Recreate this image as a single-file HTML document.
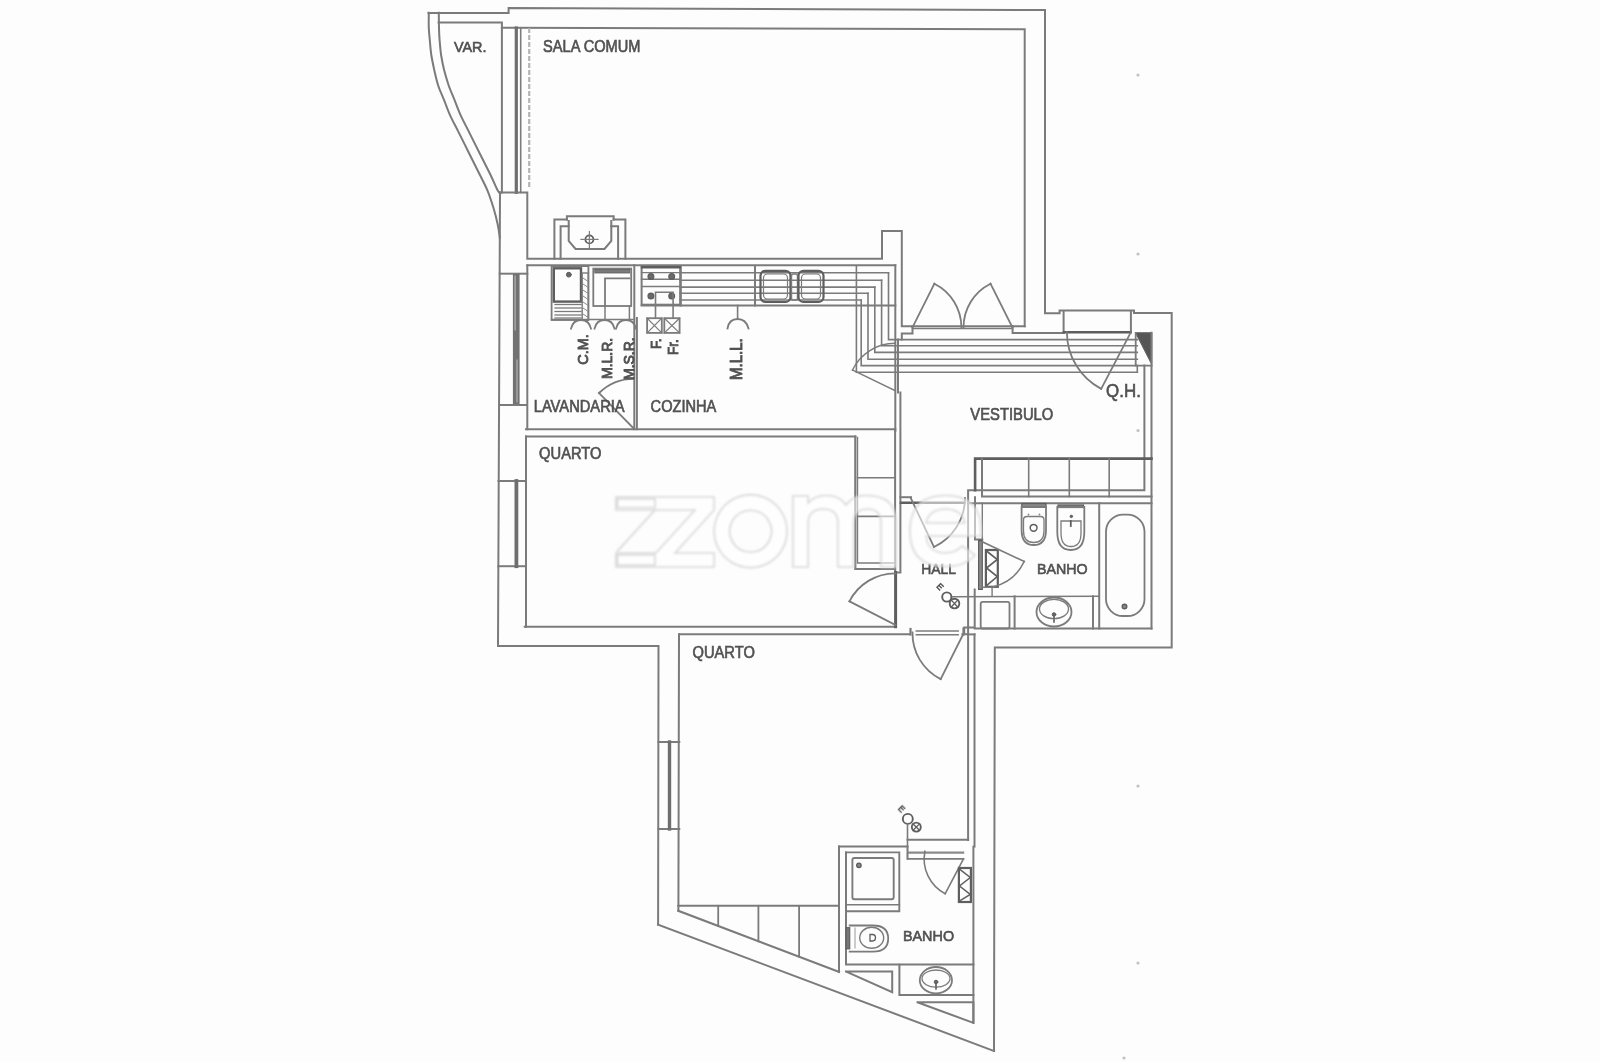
<!DOCTYPE html>
<html><head><meta charset="utf-8"><style>
html,body{margin:0;padding:0;background:#fff;}
svg{display:block;}
text{font-family:"Liberation Sans",sans-serif;}
</style></head><body>
<svg width="1600" height="1062" viewBox="0 0 1600 1062" stroke-linecap="square" stroke-linejoin="miter">
<rect x="0" y="0" width="1600" height="1062" fill="#fdfdfd"/>
<g>
<path d="M428.5,12.9 L508.6,12.9 L508.6,8.1 L1045.0,10.0 L1045.0,313.2 L1059.6,313.2 L1059.6,310.6 L1134.0,310.6 L1134.0,313.0 L1171.7,313.0 L1171.7,647.5 L994.8,647.5 L994.0,1051.0" stroke="#7b7b7b" stroke-width="2.0" fill="none" />
<path d="M658.1,924.6 L994.0,1051.0" stroke="#7b7b7b" stroke-width="2.0" fill="none" />
<path d="M500.0,192.4 L498.0,646.0 L658.5,646.0 L658.1,924.6" stroke="#7b7b7b" stroke-width="2.0" fill="none" />
<path d="M428.8,12.7 C428.8,15.2 428.6,23.4 428.8,28.0 C429.0,32.5 429.4,35.5 429.8,40.0 C430.2,44.5 430.6,50.0 431.3,55.0 C432.1,60.0 433.2,65.1 434.3,70.1 C435.4,75.1 436.5,80.2 438.1,85.2 C439.7,90.2 442.1,95.2 444.1,100.2 C446.1,105.2 447.8,110.3 450.1,115.3 C452.4,120.3 455.2,125.4 457.7,130.4 C460.2,135.4 462.7,140.4 465.2,145.4 C467.7,150.4 470.2,155.5 472.7,160.5 C475.2,165.5 477.7,170.5 480.2,175.5 C482.7,180.5 485.3,185.2 487.5,190.6 C489.7,196.0 491.8,202.4 493.5,208.0 C495.2,213.6 496.6,219.1 497.6,224.0 C498.7,228.9 499.4,235.2 499.8,237.5" stroke="#7b7b7b" stroke-width="2.0" fill="none" />
<path d="M438.8,12.7 C438.8,15.2 438.9,23.4 439.0,28.0 C439.1,32.5 439.2,35.5 439.6,40.0 C440.0,44.5 440.4,50.0 441.1,55.0 C441.9,60.0 442.9,65.1 444.1,70.1 C445.4,75.1 446.9,80.2 448.6,85.2 C450.4,90.2 452.6,95.2 454.6,100.2 C456.6,105.2 458.4,110.3 460.7,115.3 C463.0,120.3 465.7,125.4 468.2,130.4 C470.7,135.4 473.2,140.4 475.7,145.4 C478.2,150.4 480.8,155.5 483.3,160.5 C485.8,165.5 488.5,170.7 490.8,175.5 C493.1,180.3 495.7,186.5 497.2,189.5 C498.7,192.5 499.5,192.8 500.0,193.4" stroke="#7b7b7b" stroke-width="2.0" fill="none" />
<path d="M438.6,22.6 L501.9,22.6 L501.9,192.4" stroke="#7b7b7b" stroke-width="2.0" fill="none" />
<path d="M501.9,27.7 L1024.7,29.3 L1024.7,326.3" stroke="#7b7b7b" stroke-width="2.0" fill="none" />
<path d="M516.3,28.0 L516.3,192.4" stroke="#6e6e6e" stroke-width="3.2" fill="none" />
<path d="M520.7,28.0 L520.7,192.4" stroke="#7b7b7b" stroke-width="1.6" fill="none" />
<path d="M529.2,29.0 L529.2,188.0" stroke="#b4b4b4" stroke-width="2.2" fill="none" stroke-dasharray="3 4"/>
<path d="M499.8,192.4 L527.3,192.4 L527.3,258.8 L882.0,258.8 L882.0,230.9 L901.8,230.9 L901.8,326.3 L1024.7,326.3" stroke="#7b7b7b" stroke-width="2.0" fill="none" />
<path d="M554.4,258.8 L554.4,219.4 L566.9,219.4" stroke="#7b7b7b" stroke-width="2.0" fill="none" />
<path d="M613.5,219.4 L625.4,219.4 L625.4,258.8" stroke="#7b7b7b" stroke-width="2.0" fill="none" />
<path d="M560.6,258.8 L560.6,226.3 L568.7,226.3" stroke="#7b7b7b" stroke-width="2.0" fill="none" />
<path d="M611.3,226.3 L618.1,226.3 L618.1,258.8" stroke="#7b7b7b" stroke-width="2.0" fill="none" />
<path d="M566.9,219.4 L566.9,216.3 L613.7,216.3 L613.7,219.4" stroke="#7b7b7b" stroke-width="2.0" fill="none" />
<path d="M568.7,221.0 L568.7,241.0 L575.5,249.0 L604.5,249.0 L611.3,241.0 L611.3,221.0" stroke="#7b7b7b" stroke-width="2.0" fill="none" />
<circle cx="589.4" cy="239.4" r="4.0" stroke="#5e5e5e" stroke-width="1.8" fill="none"/>
<path d="M581.0,239.4 L598.0,239.4" stroke="#7b7b7b" stroke-width="1.2" fill="none" />
<path d="M589.4,231.5 L589.4,247.5" stroke="#7b7b7b" stroke-width="1.2" fill="none" />
<path d="M527.3,265.3 L895.3,265.3" stroke="#7b7b7b" stroke-width="2.0" fill="none" />
<path d="M527.3,265.3 L527.3,429.2" stroke="#7b7b7b" stroke-width="2.0" fill="none" />
<path d="M499.8,273.7 L527.3,273.7" stroke="#7b7b7b" stroke-width="2.0" fill="none" />
<path d="M526.0,429.2 L895.3,429.2" stroke="#7b7b7b" stroke-width="2.0" fill="none" />
<path d="M895.3,265.3 L895.3,431.0" stroke="#7b7b7b" stroke-width="2.0" fill="none" />
<path d="M898.0,339.6 L898.0,392.5" stroke="#7b7b7b" stroke-width="2.0" fill="none" />
<rect x="512.9" y="274.0" width="6.7" height="130.0" rx="0" stroke="none" stroke-width="0" fill="#727272"/>
<path d="M515.1,276.0 L515.1,330.0" stroke="#c0c0c0" stroke-width="1" fill="none" />
<path d="M517.0,360.0 L517.0,402.0" stroke="#c0c0c0" stroke-width="1" fill="none" />
<path d="M499.8,405.0 L526.0,405.0" stroke="#7b7b7b" stroke-width="2.0" fill="none" />
<path d="M634.3,265.3 L634.3,429.2" stroke="#7b7b7b" stroke-width="2.0" fill="none" />
<path d="M636.9,318.0 L636.9,429.2" stroke="#7b7b7b" stroke-width="2.0" fill="none" />
<path d="M641.6,305.5 L895.3,305.5" stroke="#7b7b7b" stroke-width="2.0" fill="none" />
<rect x="641.6" y="266.1" width="38.6" height="38.6" rx="0" stroke="#7b7b7b" stroke-width="2.0" fill="none"/>
<path d="M680.2,272.7 L888.5,272.7" stroke="#7b7b7b" stroke-width="1.6" fill="none" />
<path d="M680.2,280.3 L881.6,280.3" stroke="#7b7b7b" stroke-width="1.6" fill="none" />
<path d="M680.2,287.1 L874.8,287.1" stroke="#7b7b7b" stroke-width="1.6" fill="none" />
<path d="M680.2,293.2 L868.0,293.2" stroke="#7b7b7b" stroke-width="1.6" fill="none" />
<path d="M680.2,300.0 L861.2,300.0" stroke="#7b7b7b" stroke-width="1.6" fill="none" />
<path d="M888.5,272.7 L888.5,339.6 L1137.3,339.6" stroke="#7b7b7b" stroke-width="1.6" fill="none" />
<path d="M881.6,280.3 L881.6,345.8 L1137.3,345.8" stroke="#7b7b7b" stroke-width="1.6" fill="none" />
<path d="M874.8,287.1 L874.8,352.4 L1137.3,352.4" stroke="#7b7b7b" stroke-width="1.6" fill="none" />
<path d="M868.0,293.2 L868.0,359.2 L1137.3,359.2" stroke="#7b7b7b" stroke-width="1.6" fill="none" />
<path d="M861.2,300.0 L861.2,365.6 L1137.3,365.6" stroke="#7b7b7b" stroke-width="1.6" fill="none" />
<path d="M856.4,266.6 L856.4,372.2 L1137.3,372.2" stroke="#7b7b7b" stroke-width="1.6" fill="none" />
<path d="M680.8,266.0 L680.8,305.5" stroke="#7b7b7b" stroke-width="2.0" fill="none" />
<path d="M755.0,266.0 L755.0,305.5" stroke="#7b7b7b" stroke-width="2.0" fill="none" />
<path d="M641.6,272.6 L680.2,272.6" stroke="#7b7b7b" stroke-width="1.4" fill="none" />
<path d="M641.6,279.2 L680.2,279.2" stroke="#7b7b7b" stroke-width="1.4" fill="none" />
<path d="M641.6,286.5 L680.2,286.5" stroke="#7b7b7b" stroke-width="1.4" fill="none" />
<path d="M642.0,267.3 L679.8,267.3" stroke="#5e5e5e" stroke-width="2.4" fill="none" />
<circle cx="650.9" cy="276.5" r="2.9" stroke="#5e5e5e" stroke-width="1.2" fill="#6a6a6a"/>
<circle cx="671.7" cy="276.5" r="2.9" stroke="#5e5e5e" stroke-width="1.2" fill="#6a6a6a"/>
<circle cx="650.9" cy="296" r="2.9" stroke="#5e5e5e" stroke-width="1.2" fill="#6a6a6a"/>
<circle cx="671.7" cy="296" r="2.9" stroke="#5e5e5e" stroke-width="1.2" fill="#6a6a6a"/>
<path d="M655.5,318.2 L655.5,292.3 L673.1,292.3 L673.1,318.2" stroke="#7b7b7b" stroke-width="1.6" fill="none" />
<rect x="647.1" y="318.2" width="14.7" height="14.7" rx="0" stroke="#7b7b7b" stroke-width="1.8" fill="none"/>
<path d="M647.1,318.2 L661.8,332.9" stroke="#7b7b7b" stroke-width="1.2" fill="none" />
<path d="M661.8,318.2 L647.1,332.9" stroke="#7b7b7b" stroke-width="1.2" fill="none" />
<rect x="664.3" y="318.2" width="15.3" height="14.7" rx="0" stroke="#7b7b7b" stroke-width="1.8" fill="none"/>
<path d="M664.3,318.2 L679.6,332.9" stroke="#7b7b7b" stroke-width="1.2" fill="none" />
<path d="M679.6,318.2 L664.3,332.9" stroke="#7b7b7b" stroke-width="1.2" fill="none" />
<rect x="760.5" y="270.8" width="30.0" height="31.2" rx="5" stroke="#5e5e5e" stroke-width="2.2" fill="none"/>
<rect x="763.5" y="274.0" width="24.0" height="25.0" rx="4" stroke="#7b7b7b" stroke-width="1.2" fill="none"/>
<rect x="791.5" y="274.0" width="6.0" height="26.0" rx="2" stroke="#7b7b7b" stroke-width="1.4" fill="none"/>
<rect x="798.5" y="270.8" width="25.0" height="31.2" rx="5" stroke="#5e5e5e" stroke-width="2.2" fill="none"/>
<rect x="801.5" y="274.0" width="19.0" height="25.0" rx="4" stroke="#7b7b7b" stroke-width="1.2" fill="none"/>
<path d="M737.6,305.5 L737.6,319.0" stroke="#7b7b7b" stroke-width="1.6" fill="none" />
<path d="M727.5,328.5 Q729,319 737.6,319 Q746,319 748.5,328.5" stroke="#7b7b7b" stroke-width="1.8" fill="none" />
<rect x="551.6" y="266.1" width="36.8" height="53.9" rx="0" stroke="#7b7b7b" stroke-width="1.8" fill="none"/>
<rect x="553.8" y="268.3" width="27.2" height="33.3" rx="0" stroke="#5e5e5e" stroke-width="2.4" fill="none"/>
<circle cx="568.8" cy="274.7" r="2.4" stroke="#5e5e5e" stroke-width="1" fill="#666"/>
<rect x="582.2" y="273.0" width="6.2" height="47.0" rx="0" stroke="#7b7b7b" stroke-width="1.4" fill="none"/>
<path d="M555.0,304.5 L581.0,304.5" stroke="#7a7a7a" stroke-width="1.3" fill="none" />
<path d="M555.0,308.0 L581.0,308.0" stroke="#7a7a7a" stroke-width="1.3" fill="none" />
<path d="M555.0,311.5 L581.0,311.5" stroke="#7a7a7a" stroke-width="1.3" fill="none" />
<path d="M555.0,315.0 L581.0,315.0" stroke="#7a7a7a" stroke-width="1.3" fill="none" />
<path d="M555.0,318.0 L581.0,318.0" stroke="#7a7a7a" stroke-width="1.3" fill="none" />
<path d="M583.0,278.0 L587.5,281.0" stroke="#8a8a8a" stroke-width="1.0" fill="none" />
<path d="M583.0,284.0 L587.5,287.0" stroke="#8a8a8a" stroke-width="1.0" fill="none" />
<path d="M583.0,290.0 L587.5,293.0" stroke="#8a8a8a" stroke-width="1.0" fill="none" />
<path d="M583.0,296.0 L587.5,299.0" stroke="#8a8a8a" stroke-width="1.0" fill="none" />
<path d="M583.0,302.0 L587.5,305.0" stroke="#8a8a8a" stroke-width="1.0" fill="none" />
<path d="M583.0,308.0 L587.5,311.0" stroke="#8a8a8a" stroke-width="1.0" fill="none" />
<path d="M583.0,314.0 L587.5,317.0" stroke="#8a8a8a" stroke-width="1.0" fill="none" />
<rect x="593.3" y="268.6" width="37.9" height="37.4" rx="0" stroke="#7b7b7b" stroke-width="1.8" fill="none"/>
<rect x="594.8" y="269.5" width="35.0" height="3.5" rx="0" stroke="#5e5e5e" stroke-width="0.8" fill="#7a7a7a"/>
<path d="M605.0,306.0 L605.0,278.4 L629.4,278.4" stroke="#7b7b7b" stroke-width="1.8" fill="none" />
<path d="M605.0,306.0 L605.0,318.8" stroke="#7b7b7b" stroke-width="1.5" fill="none" />
<path d="M629.4,306.0 L629.4,318.8" stroke="#7b7b7b" stroke-width="1.5" fill="none" />
<path d="M551.6,319.5 L634.3,319.5" stroke="#7b7b7b" stroke-width="1.6" fill="none" />
<path d="M571,328.6 Q573,320 581,320 Q589,320 591,328.6" stroke="#7b7b7b" stroke-width="1.8" fill="none" />
<path d="M594.5,328.6 Q596.5,320 604.5,320 Q612.5,320 614.5,328.6" stroke="#7b7b7b" stroke-width="1.8" fill="none" />
<path d="M616,328.6 Q618,320 626,320 Q634,320 636,328.6" stroke="#7b7b7b" stroke-width="1.8" fill="none" />
<path d="M633.8,428.6 L599.0,393.0" stroke="#7b7b7b" stroke-width="1.8" fill="none" />
<path d="M599.0,393.0 A49.8,49.8 0 0 1 633.8,378.8" stroke="#7b7b7b" stroke-width="1.8" fill="none" />
<path d="M895.0,390.5 L852.5,370.0" stroke="#7b7b7b" stroke-width="1.6" fill="none" />
<path d="M852.5,370.0 A47.2,47.2 0 0 1 895.0,343.3" stroke="#7b7b7b" stroke-width="1.4" fill="none" />
<path d="M912.5,328.5 L1012.4,328.5" stroke="#7b7b7b" stroke-width="1.3" fill="none" />
<path d="M912.5,326.3 L912.5,333.4 L901.8,333.4 L901.8,339.6" stroke="#7b7b7b" stroke-width="2.0" fill="none" />
<path d="M1012.6,326.3 L1012.6,332.9 L1063.6,332.9" stroke="#7b7b7b" stroke-width="2.0" fill="none" />
<path d="M912.5,327.4 L934.4,283.7" stroke="#7b7b7b" stroke-width="1.8" fill="none" />
<path d="M934.4,283.7 A48.9,48.9 0 0 1 961.4,327.4" stroke="#7b7b7b" stroke-width="1.8" fill="none" />
<path d="M1012.4,327.4 L990.5,283.7" stroke="#7b7b7b" stroke-width="1.8" fill="none" />
<path d="M990.5,283.7 A48.9,48.9 0 0 0 963.5,327.4" stroke="#7b7b7b" stroke-width="1.8" fill="none" />
<path d="M1063.6,311.0 L1063.6,332.9" stroke="#7b7b7b" stroke-width="2.0" fill="none" />
<path d="M1130.9,311.0 L1130.9,332.2" stroke="#7b7b7b" stroke-width="2.0" fill="none" />
<path d="M1064.0,332.2 L1130.5,332.2" stroke="#5e5e5e" stroke-width="2.6" fill="none" />
<path d="M1135.7,332.8 L1151.7,332.8 L1151.7,364 Z" stroke="#5e5e5e" stroke-width="1.2" fill="#555" />
<path d="M1135.7,332.8 L1135.7,365.6 L1151.7,365.6" stroke="#7b7b7b" stroke-width="1.8" fill="none" />
<path d="M1137.3,365.6 L1137.3,372.2" stroke="#7b7b7b" stroke-width="1.6" fill="none" />
<path d="M1151.5,332.8 L1151.5,628.5" stroke="#7b7b7b" stroke-width="2.0" fill="none" />
<path d="M1144.4,365.6 L1144.4,490.2 L968.1,490.2 L968.1,840.0" stroke="#7b7b7b" stroke-width="2.0" fill="none" />
<path d="M1130.9,332.2 L1101.2,388.9" stroke="#7b7b7b" stroke-width="1.8" fill="none" />
<path d="M1101.2,388.9 A64.0,64.0 0 0 1 1066.9,332.2" stroke="#7b7b7b" stroke-width="1.8" fill="none" />
<path d="M975.1,490.2 L975.1,458.6 L1151.5,458.6" stroke="#5e5e5e" stroke-width="2.6" fill="none" />
<path d="M982.0,458.6 L982.0,496.6 L1151.5,496.6" stroke="#7b7b7b" stroke-width="2.0" fill="none" />
<path d="M1028.7,458.6 L1028.7,496.6" stroke="#7b7b7b" stroke-width="1.6" fill="none" />
<path d="M1069.3,458.6 L1069.3,496.6" stroke="#7b7b7b" stroke-width="1.6" fill="none" />
<path d="M1109.2,458.6 L1109.2,496.6" stroke="#7b7b7b" stroke-width="1.6" fill="none" />
<path d="M900.4,392.6 L900.4,572.4 L895.1,572.4" stroke="#7b7b7b" stroke-width="2.0" fill="none" />
<path d="M900.4,497.2 L911.0,497.2" stroke="#7b7b7b" stroke-width="2.0" fill="none" />
<path d="M901.0,502.8 L964.0,502.8" stroke="#5e5e5e" stroke-width="2.6" fill="none" />
<path d="M910.7,498.0 L934.0,547.0" stroke="#7b7b7b" stroke-width="1.8" fill="none" />
<path d="M934.0,547.0 A54.3,54.3 0 0 0 965.0,498.0" stroke="#7b7b7b" stroke-width="1.8" fill="none" />
<path d="M968.1,503.2 L1151.5,503.2" stroke="#7b7b7b" stroke-width="2.0" fill="none" />
<path d="M526.0,436.6 L855.3,436.6" stroke="#7b7b7b" stroke-width="2.0" fill="none" />
<path d="M526.0,436.6 L526.0,626.7" stroke="#7b7b7b" stroke-width="2.0" fill="none" />
<path d="M524.7,626.7 L895.5,626.7" stroke="#7b7b7b" stroke-width="2.0" fill="none" />
<path d="M498.5,481.0 L524.7,481.0" stroke="#7b7b7b" stroke-width="2.0" fill="none" />
<path d="M498.3,566.2 L524.7,566.2" stroke="#7b7b7b" stroke-width="2.0" fill="none" />
<path d="M516.4,481.0 L516.4,566.2" stroke="#6e6e6e" stroke-width="3.8" fill="none" />
<path d="M855.3,436.6 L855.3,569.0 L895.1,569.0" stroke="#7b7b7b" stroke-width="2.2" fill="none" />
<path d="M857.5,437.5 L857.5,563.0 L894.2,563.0" stroke="#7b7b7b" stroke-width="1.4" fill="none" />
<path d="M857.5,477.8 L894.2,477.8" stroke="#7b7b7b" stroke-width="1.6" fill="none" />
<path d="M857.5,516.4 L894.2,516.4" stroke="#7b7b7b" stroke-width="1.6" fill="none" />
<path d="M895.1,429.2 L895.1,572.4" stroke="#7b7b7b" stroke-width="2.0" fill="none" />
<path d="M895.6,572.4 L895.6,626.7" stroke="#5e5e5e" stroke-width="3.0" fill="none" />
<path d="M895.3,625.0 L849.4,601.3" stroke="#7b7b7b" stroke-width="1.8" fill="none" />
<path d="M849.4,601.3 A51.7,51.7 0 0 1 895.3,573.3" stroke="#7b7b7b" stroke-width="1.8" fill="none" />
<path d="M975.0,497.2 L975.0,539.5 L982.3,539.5" stroke="#7b7b7b" stroke-width="2.0" fill="none" />
<path d="M982.3,503.2 L982.3,539.5" stroke="#7b7b7b" stroke-width="1.4" fill="none" />
<path d="M980.0,541.0 L980.0,588.5" stroke="#5e5e5e" stroke-width="3" fill="none" />
<rect x="978.6" y="540.7" width="3.7" height="48.7" rx="0" stroke="#5e5e5e" stroke-width="1.2" fill="#8a8a8a"/>
<rect x="985.9" y="550.0" width="11.9" height="36.8" rx="0" stroke="#5e5e5e" stroke-width="2.2" fill="none"/>
<path d="M986.5,551.0 L997.3,559.5 L986.5,568.0 L997.3,576.5 L986.5,585.5" stroke="#5e5e5e" stroke-width="1.6" fill="none" />
<path d="M982.3,541.8 L1024.2,561.5" stroke="#7b7b7b" stroke-width="1.6" fill="none" />
<path d="M1024.2,561.5 A46.3,46.3 0 0 1 993.5,586.7" stroke="#7b7b7b" stroke-width="1.6" fill="none" />
<path d="M982.3,587.3 L992.1,587.3 L992.1,595.6" stroke="#7b7b7b" stroke-width="1.4" fill="none" />
<path d="M974.7,589.5 L974.7,627.6 L964.2,627.6 L964.2,632.3" stroke="#7b7b7b" stroke-width="2.0" fill="none" />
<path d="M952.6,596.7 L1099.2,596.3" stroke="#7b7b7b" stroke-width="1.4" fill="none" />
<rect x="980.7" y="601.8" width="28.8" height="26.7" rx="2" stroke="#7b7b7b" stroke-width="1.8" fill="none"/>
<path d="M974.7,628.5 L1151.5,628.5" stroke="#7b7b7b" stroke-width="2.0" fill="none" />
<path d="M1014.6,596.3 L1014.6,628.5" stroke="#7b7b7b" stroke-width="2.0" fill="none" />
<path d="M1093.0,596.3 L1093.0,628.5" stroke="#7b7b7b" stroke-width="2.0" fill="none" />
<path d="M1099.2,503.2 L1099.2,628.5" stroke="#7b7b7b" stroke-width="2.0" fill="none" />
<rect x="1106.0" y="514.6" width="38.5" height="101.4" rx="17" stroke="#7b7b7b" stroke-width="1.8" fill="none"/>
<circle cx="1124.5" cy="606.5" r="2.3" stroke="#5e5e5e" stroke-width="1.4" fill="#888"/>
<ellipse cx="1054" cy="612" rx="17.5" ry="14.5" stroke="#7b7b7b" stroke-width="1.8" fill="none"/>
<ellipse cx="1054" cy="609" rx="14.5" ry="9.7" stroke="#7b7b7b" stroke-width="1.3" fill="none"/>
<path d="M1054.0,614.0 L1054.0,622.0" stroke="#5e5e5e" stroke-width="1.6" fill="none" />
<circle cx="1054" cy="614.5" r="1.8" stroke="#5e5e5e" stroke-width="1" fill="#666"/>
<rect x="1021.8" y="503.5" width="24.2" height="3.7" rx="0" stroke="#5e5e5e" stroke-width="1.2" fill="#888"/>
<path d="M1021.6,507 L1046,507 L1046,530 Q1046,545 1033.8,545 Q1021.6,545 1021.6,530 Z" stroke="#7b7b7b" stroke-width="1.8" fill="none" />
<path d="M1023.5,520 Q1023.5,516.5 1027,516.5 L1040.5,516.5 Q1044,516.5 1044,520 L1044,531 Q1044,542.5 1033.8,542.5 Q1023.5,542.5 1023.5,531 Z" stroke="#7b7b7b" stroke-width="1.3" fill="none" />
<circle cx="1033.6" cy="527.8" r="3.4" stroke="#5e5e5e" stroke-width="1.5" fill="none"/>
<circle cx="1028.5" cy="514.5" r="0.9" stroke="none" stroke-width="0" fill="#888"/>
<circle cx="1039.5" cy="514.5" r="0.9" stroke="none" stroke-width="0" fill="#888"/>
<rect x="1058.0" y="505.0" width="25.5" height="2.5" rx="0" stroke="#5e5e5e" stroke-width="1.2" fill="#888"/>
<path d="M1057.3,507 L1084.3,507 L1084.3,532 Q1084.3,550 1070.8,550 Q1057.3,550 1057.3,532 Z" stroke="#7b7b7b" stroke-width="1.8" fill="none" />
<path d="M1061,521 L1081,521 L1081,533 Q1081,546.5 1071,546.5 Q1061,546.5 1061,533 Z" stroke="#7b7b7b" stroke-width="1.3" fill="none" />
<circle cx="1071.3" cy="516.4" r="1.3" stroke="#5e5e5e" stroke-width="0.8" fill="#666"/>
<path d="M1070.8,521.0 L1070.8,526.0" stroke="#5e5e5e" stroke-width="1.8" fill="none" />
<path d="M679.3,634.2 L909.5,634.2" stroke="#7b7b7b" stroke-width="2.0" fill="none" />
<path d="M962.5,634.2 L968.1,634.2" stroke="#7b7b7b" stroke-width="2.0" fill="none" />
<path d="M679.0,634.2 L678.4,910.8" stroke="#7b7b7b" stroke-width="2.0" fill="none" />
<path d="M974.5,634.4 L974.5,846.6" stroke="#7b7b7b" stroke-width="2.0" fill="none" />
<path d="M968.1,634.4 L974.5,634.4" stroke="#7b7b7b" stroke-width="2.0" fill="none" />
<path d="M963.5,633.5 L940.7,679.1" stroke="#7b7b7b" stroke-width="1.8" fill="none" />
<path d="M940.7,679.1 A51.0,51.0 0 0 1 912.5,632.5" stroke="#7b7b7b" stroke-width="1.8" fill="none" />
<path d="M916.3,631.1 L958.2,631.1" stroke="#7b7b7b" stroke-width="1.5" fill="none" />
<path d="M916.3,634.8 L958.2,634.8" stroke="#7b7b7b" stroke-width="1.5" fill="none" />
<path d="M910.5,629.0 L910.5,634.5" stroke="#7b7b7b" stroke-width="2.2" fill="none" />
<path d="M963.5,628.5 L963.5,634.5" stroke="#7b7b7b" stroke-width="2.2" fill="none" />
<path d="M658.5,742.0 L679.3,742.0" stroke="#7b7b7b" stroke-width="2.0" fill="none" />
<path d="M658.5,829.0 L679.3,829.0" stroke="#7b7b7b" stroke-width="2.0" fill="none" />
<path d="M669.5,742.0 L669.5,829.0" stroke="#6e6e6e" stroke-width="3.4" fill="none" />
<path d="M678.3,905.8 L839.0,905.8" stroke="#7b7b7b" stroke-width="2.0" fill="none" />
<path d="M678.3,910.8 L839.0,971.9" stroke="#7b7b7b" stroke-width="2.0" fill="none" />
<path d="M718.2,905.8 L718.2,926.0" stroke="#7b7b7b" stroke-width="1.8" fill="none" />
<path d="M758.4,905.8 L758.4,941.3" stroke="#7b7b7b" stroke-width="1.8" fill="none" />
<path d="M799.1,905.8 L799.1,956.7" stroke="#7b7b7b" stroke-width="1.8" fill="none" />
<path d="M839.0,846.6 L839.0,971.9" stroke="#7b7b7b" stroke-width="2.0" fill="none" />
<path d="M839.0,846.4 L907.5,846.4" stroke="#7b7b7b" stroke-width="2.0" fill="none" />
<path d="M907.5,839.7 L968.1,839.7" stroke="#7b7b7b" stroke-width="2.0" fill="none" />
<path d="M846.0,852.4 L846.0,964.4 L973.4,964.4" stroke="#7b7b7b" stroke-width="2.0" fill="none" />
<path d="M973.4,846.6 L973.4,1022.9" stroke="#7b7b7b" stroke-width="2.0" fill="none" />
<path d="M907.5,846.4 L907.5,858.9 L963.5,858.9" stroke="#7b7b7b" stroke-width="1.6" fill="none" />
<path d="M909.0,852.6 L963.0,852.6" stroke="#8a8a8a" stroke-width="2.4" fill="none" />
<path d="M846.0,852.4 L899.3,852.4 L899.3,911.2 L846.0,911.2" stroke="#7b7b7b" stroke-width="1.9" fill="none" />
<path d="M846.0,904.8 L899.3,904.8" stroke="#7b7b7b" stroke-width="1.6" fill="none" />
<rect x="852.4" y="858.0" width="41.3" height="41.3" rx="2" stroke="#7b7b7b" stroke-width="1.9" fill="none"/>
<circle cx="858.9" cy="865.3" r="2.2" stroke="#5e5e5e" stroke-width="1.4" fill="#888"/>
<rect x="846.0" y="927.7" width="3.7" height="21.1" rx="0" stroke="#5e5e5e" stroke-width="1.2" fill="#777"/>
<path d="M849.7,925.5 L873,925.5 Q888.2,925.5 888.2,938.5 Q888.2,951.6 873,951.6 L849.7,951.6" stroke="#7b7b7b" stroke-width="1.8" fill="none" />
<ellipse cx="871.7" cy="937.8" rx="12" ry="10.5" stroke="#7b7b7b" stroke-width="1.4" fill="none"/>
<path d="M870,934.5 L872.5,934.5 Q875.5,934.5 875.5,937.8 Q875.5,941 872.5,941 L870,941 Z" stroke="#5e5e5e" stroke-width="1.3" fill="none" />
<path d="M855.0,928.0 L855.0,948.0" stroke="#999" stroke-width="1.0" fill="none" />
<path d="M899.4,964.8 L899.4,995.1 L973.4,995.1" stroke="#7b7b7b" stroke-width="2.0" fill="none" />
<ellipse cx="935.9" cy="980.2" rx="16.1" ry="13.2" stroke="#7b7b7b" stroke-width="1.8" fill="none"/>
<ellipse cx="936" cy="978.6" rx="14" ry="8.6" stroke="#7b7b7b" stroke-width="1.3" fill="none"/>
<path d="M936.0,981.0 L936.0,989.0" stroke="#5e5e5e" stroke-width="1.6" fill="none" />
<circle cx="936" cy="982" r="1.8" stroke="#5e5e5e" stroke-width="1" fill="#666"/>
<path d="M846.0,971.5 L892.2,971.5 L892.2,992.2 L846.0,971.5" stroke="#7b7b7b" stroke-width="2.0" fill="none" />
<path d="M917.6,1002.3 L973.4,1002.3 L973.4,1022.9 L917.6,1002.3" stroke="#7b7b7b" stroke-width="2.0" fill="none" />
<path d="M963.5,858.9 L945.2,893.7" stroke="#7b7b7b" stroke-width="1.6" fill="none" />
<path d="M945.2,893.7 A39.3,39.3 0 0 1 924.9,851.3" stroke="#7b7b7b" stroke-width="1.6" fill="none" />
<rect x="958.9" y="868.0" width="12.0" height="34.0" rx="0" stroke="#5e5e5e" stroke-width="2.2" fill="none"/>
<path d="M959.5,869.0 L970.3,877.5 L959.5,886.0 L970.3,894.5 L959.5,901.0" stroke="#5e5e5e" stroke-width="1.5" fill="none" />
<circle cx="946.8" cy="597" r="4.6" stroke="#5e5e5e" stroke-width="1.9" fill="none"/>
<circle cx="954.5" cy="603.6" r="4.8" stroke="#5e5e5e" stroke-width="1.9" fill="none"/>
<path d="M951.1,599.9 L957.9,607.3" stroke="#5e5e5e" stroke-width="1.3" fill="none" />
<path d="M957.9,599.9 L951.1,607.3" stroke="#5e5e5e" stroke-width="1.3" fill="none" />
<circle cx="907.8" cy="818.9" r="5" stroke="#5e5e5e" stroke-width="1.9" fill="none"/>
<circle cx="916.3" cy="827.1" r="4.5" stroke="#5e5e5e" stroke-width="1.9" fill="none"/>
<path d="M913.1,823.9 L919.5,830.3" stroke="#5e5e5e" stroke-width="1.3" fill="none" />
<path d="M919.5,823.9 L913.1,830.3" stroke="#5e5e5e" stroke-width="1.3" fill="none" />
<path d="M907.5,824.0 L907.5,858.9" stroke="#7b7b7b" stroke-width="1.6" fill="none" />
<circle cx="1138" cy="75" r="1.6" stroke="none" stroke-width="0" fill="#c2c2c2"/>
<circle cx="1138" cy="254" r="1.6" stroke="none" stroke-width="0" fill="#c2c2c2"/>
<circle cx="1138" cy="430.5" r="1.6" stroke="none" stroke-width="0" fill="#c2c2c2"/>
<circle cx="1138" cy="786" r="1.6" stroke="none" stroke-width="0" fill="#c2c2c2"/>
<circle cx="1138" cy="963" r="1.6" stroke="none" stroke-width="0" fill="#c2c2c2"/>
<circle cx="1124" cy="1058" r="1.6" stroke="none" stroke-width="0" fill="#c2c2c2"/>
<g opacity="0.995"><text x="936.1" y="586.7" font-size="8.5" fill="#555" stroke="#555" stroke-width="0.6" text-anchor="start" letter-spacing="0" font-weight="normal" transform="rotate(45 936.1 586.7) translate(936.1 586.7) scale(1.0 1.0) translate(-936.1 -586.7)">E</text>
<text x="897.5" y="809" font-size="8.5" fill="#555" stroke="#555" stroke-width="0.6" text-anchor="start" letter-spacing="0" font-weight="normal" transform="rotate(45 897.5 809) translate(897.5 809) scale(1.0 1.0) translate(-897.5 -809)">E</text>
<text x="453.9" y="51.6" font-size="14.4" fill="#505050" stroke="#505050" stroke-width="0.6" text-anchor="start" letter-spacing="0" font-weight="normal" transform="translate(453.9 51.6) scale(1.0 1.07) translate(-453.9 -51.6)">VAR.</text>
<text x="543.1" y="52.1" font-size="14.6" fill="#505050" stroke="#505050" stroke-width="0.6" text-anchor="start" letter-spacing="0" font-weight="normal" transform="translate(543.1 52.1) scale(1.0 1.07) translate(-543.1 -52.1)">SALA COMUM</text>
<text x="533.75" y="411.9" font-size="14.7" fill="#505050" stroke="#505050" stroke-width="0.6" text-anchor="start" letter-spacing="0" font-weight="normal" transform="translate(533.75 411.9) scale(1.0 1.07) translate(-533.75 -411.9)">LAVANDARIA</text>
<text x="650.6" y="411.9" font-size="14.6" fill="#505050" stroke="#505050" stroke-width="0.6" text-anchor="start" letter-spacing="0" font-weight="normal" transform="translate(650.6 411.9) scale(1.0 1.07) translate(-650.6 -411.9)">COZINHA</text>
<text x="539.1" y="459.5" font-size="14.7" fill="#505050" stroke="#505050" stroke-width="0.6" text-anchor="start" letter-spacing="0" font-weight="normal" transform="translate(539.1 459.5) scale(1.0 1.07) translate(-539.1 -459.5)">QUARTO</text>
<text x="970.3" y="420" font-size="14.8" fill="#505050" stroke="#505050" stroke-width="0.6" text-anchor="start" letter-spacing="0" font-weight="normal" transform="translate(970.3 420) scale(1.0 1.07) translate(-970.3 -420)">VESTIBULO</text>
<text x="1106.1" y="397.3" font-size="16.9" fill="#505050" stroke="#505050" stroke-width="0.6" text-anchor="start" letter-spacing="0" font-weight="normal" transform="translate(1106.1 397.3) scale(1.0 1.07) translate(-1106.1 -397.3)">Q.H.</text>
<text x="921.2" y="574.1" font-size="13.95" fill="#505050" stroke="#505050" stroke-width="0.6" text-anchor="start" letter-spacing="0" font-weight="normal" transform="translate(921.2 574.1) scale(1.0 1.07) translate(-921.2 -574.1)">HALL</text>
<text x="1037" y="573.6" font-size="14.26" fill="#505050" stroke="#505050" stroke-width="0.6" text-anchor="start" letter-spacing="0" font-weight="normal" transform="translate(1037 573.6) scale(1.0 1.07) translate(-1037 -573.6)">BANHO</text>
<text x="692.5" y="658" font-size="14.7" fill="#505050" stroke="#505050" stroke-width="0.6" text-anchor="start" letter-spacing="0" font-weight="normal" transform="translate(692.5 658) scale(1.0 1.07) translate(-692.5 -658)">QUARTO</text>
<text x="902.9" y="940.6" font-size="14.4" fill="#505050" stroke="#505050" stroke-width="0.6" text-anchor="start" letter-spacing="0" font-weight="normal" transform="translate(902.9 940.6) scale(1.0 1.07) translate(-902.9 -940.6)">BANHO</text>
<text x="588.5" y="364.75" font-size="14.4" fill="#505050" stroke="#505050" stroke-width="0.85" text-anchor="start" letter-spacing="0" font-weight="normal" transform="rotate(-90 588.5 364.75) translate(588.5 364.75) scale(1.0 1.07) translate(-588.5 -364.75)">C.M.</text>
<text x="612.5" y="379" font-size="14" fill="#505050" stroke="#505050" stroke-width="0.85" text-anchor="start" letter-spacing="0" font-weight="normal" transform="rotate(-90 612.5 379) translate(612.5 379) scale(1.0 1.07) translate(-612.5 -379)">M.L.R.</text>
<text x="634" y="380" font-size="14" fill="#505050" stroke="#505050" stroke-width="0.85" text-anchor="start" letter-spacing="0" font-weight="normal" transform="rotate(-90 634 380) translate(634 380) scale(1.0 1.07) translate(-634 -380)">M.S.R.</text>
<text x="661" y="349" font-size="13.5" fill="#505050" stroke="#505050" stroke-width="0.85" text-anchor="start" letter-spacing="0" font-weight="normal" transform="rotate(-90 661 349) translate(661 349) scale(1.0 1.07) translate(-661 -349)">F.</text>
<text x="678.5" y="355" font-size="13.5" fill="#505050" stroke="#505050" stroke-width="0.85" text-anchor="start" letter-spacing="0" font-weight="normal" transform="rotate(-90 678.5 355) translate(678.5 355) scale(1.0 1.07) translate(-678.5 -355)">Fr.</text>
<text x="742.5" y="380" font-size="15" fill="#505050" stroke="#505050" stroke-width="0.85" text-anchor="start" letter-spacing="0" font-weight="normal" transform="rotate(-90 742.5 380) translate(742.5 380) scale(1.0 1.07) translate(-742.5 -380)">M.L.L.</text></g>
</g>
<defs><filter id="wb" x="-5%" y="-5%" width="110%" height="110%"><feGaussianBlur stdDeviation="0.9"/></filter></defs>
<g fill="#ffffff" fill-opacity="0.55" stroke="#d6d6d6" stroke-width="1.6" filter="url(#wb)" fill-rule="evenodd">
<path d="M616,497 L714,497 L714,510 L675,553 L714,553 L714,567 L616,567 L616,553 L656,553 L695,510 L616,510 Z"/>
<path d="M655,510 L617.5,551" fill="none"/>
<path d="M617.5,499 L655,499 L655,507.5 L617.5,507.5 Z M617.5,555 L655,555 L655,565 L617.5,565 Z" fill="none" stroke="#d6d6d6"/>
<path d="M750.6,494.85 a36.4,36.4 0 1,0 0.01,0 Z M750.6,510.25 a21,21 0 1,1 -0.01,0 Z"/>
<path d="M793,567 L793,496 L808,496 L808,503 Q815,495.5 826,495.5 Q840,495.5 846,505 Q853,495.5 866,495.5 Q896,495.5 896,522 L896,567 L881,567 L881,523 Q881,509 867.5,509 Q853.5,509 853.5,523 L853.5,567 L838,567 L838,523 Q838,509 823,509 Q808,509 808,524 L808,567 Z"/>
<path d="M981,536 L926,536 Q928,553 945.5,553 Q956,553 962,546 L975,555 Q965,566.5 945.5,566.5 Q910,566.5 910,531 Q910,495.5 945.5,495.5 Q981,495.5 981,531 Z M926,523 L965,523 Q962,509 945.5,509 Q929,509 926,523 Z"/>
</g>
</svg>
</body></html>
